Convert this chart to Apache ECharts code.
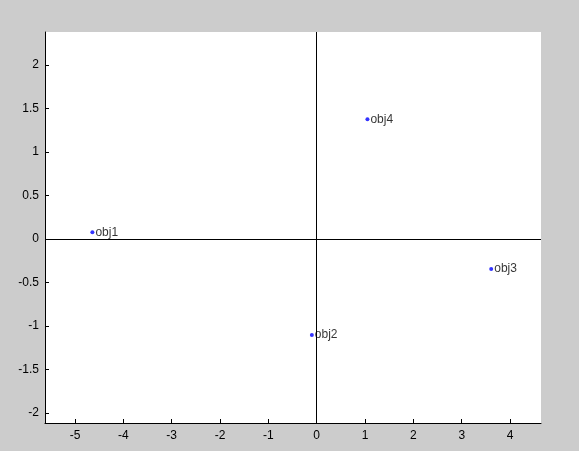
<!DOCTYPE html>
<html><head><meta charset="utf-8">
<script src="https://cdn.jsdelivr.net/npm/echarts@6/dist/echarts.min.js"></script>
<style>html,body{margin:0;padding:0;background:#cccccc;}#c{width:579px;height:451px;}</style>
</head><body><div id="c"></div>
<script>
const names = ["obj1", "obj2", "obj3", "obj4"];
const xValues = [-4.64, -0.10, 3.61, 1.05];
const yValues = [0.077, -1.103, -0.345, 1.376];
const xTicks = [-5, -4, -3, -2, -1, 0, 1, 2, 3, 4];
const yTicks = [-2, -1.5, -1, -0.5, 0, 0.5, 1, 1.5, 2];
const xRange = [-5.62, 4.64];
const yRange = [-2.115, 2.38];

const chart = echarts.init(document.getElementById('c'), null, {renderer: 'canvas'});
const font = 'Liberation Sans, Arial, sans-serif';
chart.setOption({
  backgroundColor: '#cccccc',
  animation: false,
  grid: {left: 45, top: 32, right: 38, bottom: 28, show: true, backgroundColor: '#ffffff', borderWidth: 0},
  xAxis: {
    type: 'value', min: xRange[0], max: xRange[1],
    axisLine: {show: true, onZero: false, lineStyle: {color: '#000', width: 1}},
    axisTick: {show: true, inside: true, length: 4, customValues: xTicks, lineStyle: {color: '#000'}},
    axisLabel: {customValues: xTicks, color: '#000', fontFamily: font, fontSize: 12, margin: 7},
    splitLine: {show: false}
  },
  yAxis: {
    type: 'value', min: yRange[0], max: yRange[1],
    axisLine: {show: true, onZero: false, lineStyle: {color: '#000', width: 1}},
    axisTick: {show: true, inside: true, length: 4, customValues: yTicks, lineStyle: {color: '#000'}},
    axisLabel: {customValues: yTicks, color: '#000', fontFamily: font, fontSize: 12, margin: 6},
    splitLine: {show: false}
  },
  series: [{
    type: 'scatter',
    data: names.map((n, i) => ({name: n, value: [xValues[i], yValues[i]]})),
    symbol: 'circle', symbolSize: 4,
    itemStyle: {color: '#0000ff'},
    label: {show: true, position: 'right', distance: 1, formatter: p => p.name, color: '#000', fontFamily: font, fontSize: 12},
    markLine: {
      silent: true, symbol: 'none', animation: false,
      lineStyle: {color: '#000', width: 1, type: 'solid'},
      label: {show: false},
      data: [{xAxis: 0}, {yAxis: 0}]
    }
  }]
});
</script></body></html>
